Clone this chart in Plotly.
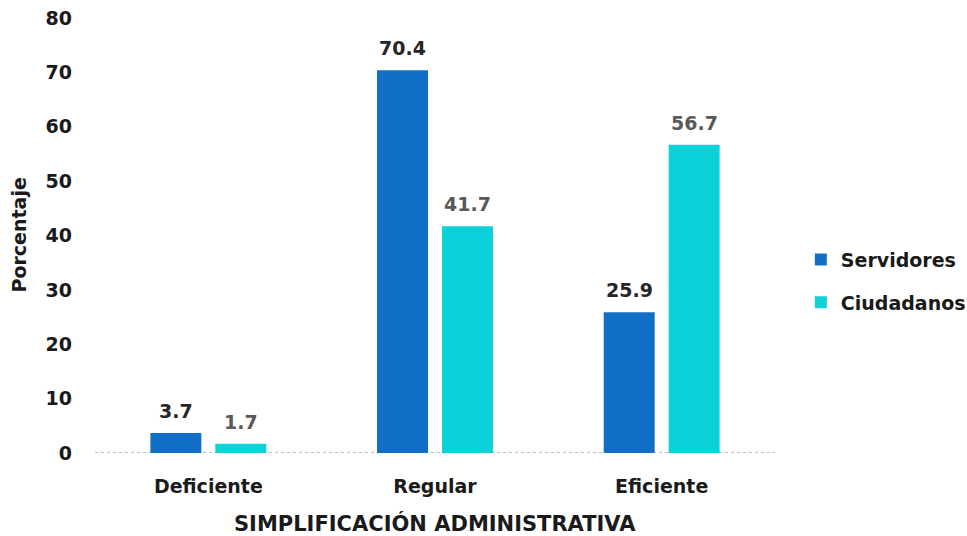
import plotly.graph_objects as go

categories = ["Deficiente", "Regular", "Eficiente"]
servidores = [3.7, 70.4, 25.9]
ciudadanos = [1.7, 41.7, 56.7]
y_ticks = [0, 10, 20, 30, 40, 50, 60, 70, 80]

C_SERV = "#1170C6"
C_CIUD = "#0DD1D9"
FONT = "DejaVu Sans"

fig = go.Figure()
fig.add_trace(go.Bar(name="Servidores", x=categories, y=servidores,
                     marker=dict(color=C_SERV, line=dict(width=0)), legendgroup="a"))
fig.add_trace(go.Bar(name="Ciudadanos", x=categories, y=ciudadanos,
                     marker=dict(color=C_CIUD, line=dict(width=0)), legendgroup="b"))

annotations = []
for cat, v in zip(categories, servidores):
    annotations.append(dict(x=cat, y=v, xref="x", yref="y", text=f"<b>{v}</b>",
                            showarrow=False, xshift=-32.5, yshift=9, yanchor="bottom",
                            font=dict(family=FONT, size=19, color="#262626")))
for cat, v in zip(categories, ciudadanos):
    annotations.append(dict(x=cat, y=v, xref="x", yref="y", text=f"<b>{v}</b>",
                            showarrow=False, xshift=32.5, yshift=9, yanchor="bottom",
                            font=dict(family=FONT, size=19, color="#595959")))

# axis titles
annotations.append(dict(text="<b>SIMPLIFICACIÓN ADMINISTRATIVA</b>", xref="paper", yref="paper",
                        x=0.5, y=-70/435, xanchor="center", yanchor="middle", showarrow=False,
                        font=dict(family=FONT, size=21, color="#1a1a1a")))
annotations.append(dict(text="<b>Porcentaje</b>", xref="paper", yref="paper",
                        x=-77/680, y=0.5, xanchor="center", yanchor="middle", showarrow=False,
                        textangle=-90, font=dict(family=FONT, size=19, color="#1a1a1a")))

fig.update_layout(
    width=967, height=536,
    margin=dict(l=95, r=192, t=18, b=83, autoexpand=False),
    paper_bgcolor="white", plot_bgcolor="white",
    barmode="group", bargap=0.427, bargroupgap=0.215,
    font=dict(family=FONT, color="#1a1a1a"),
    annotations=annotations,
    legend=dict(x=1.038, y=0.395, xanchor="left", yanchor="middle",
                font=dict(family=FONT, size=19, color="#1a1a1a", weight="bold"),
                tracegroupgap=15, itemwidth=30),
    xaxis=dict(
        showline=False, showgrid=False, zeroline=False, ticks="", automargin=False,
        tickfont=dict(family=FONT, size=19, color="#1a1a1a", weight="bold"),
        ticklabelstandoff=20,
    ),
    yaxis=dict(
        range=[0, 80], tickvals=y_ticks, showgrid=False, zeroline=False, showline=False,
        ticks="", automargin=False,
        tickfont=dict(family=FONT, size=19, color="#1a1a1a", weight="bold"),
        ticklabelstandoff=22,
    ),
    shapes=[dict(type="line", xref="paper", yref="y", x0=0, x1=1, y0=0, y1=0,
                 line=dict(color="#BFBFBF", width=2, dash="dot"), layer="below")],
)

fig.write_html("out.html")
